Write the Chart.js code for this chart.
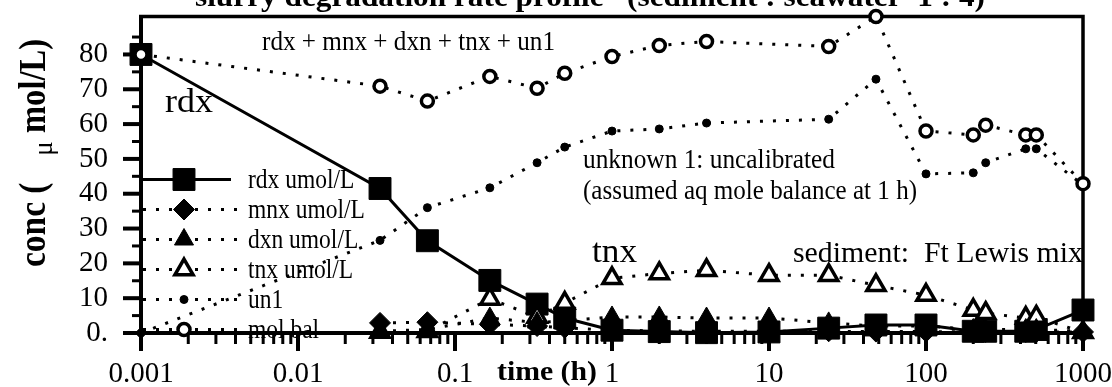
<!DOCTYPE html>
<html>
<head>
<meta charset="utf-8">
<title>RDX slurry degradation</title>
<script src="https://cdn.jsdelivr.net/npm/chart.js@4.4.1/dist/chart.umd.min.js"></script>
<style>
  html, body { margin: 0; padding: 0; background: #fff; }
  #wrap { width: 1112px; height: 387px; position: relative; }
</style>
</head>
<body>
<div id="wrap"><canvas id="c"></canvas></div>
<script>
// sampling times (h)
const timeH = [0.001, 0.0333, 0.0667, 0.1667, 0.3333, 0.5, 1, 2, 4, 10, 24, 48, 100, 200, 240, 432, 504, 1000];

// concentrations (umol/L); null = not measured at that time
const rdxConc = [80.0, 41.5, 26.5, 15.1, 8.3, 4.3, 0.8, 0.4, 0.1, 0.3, 1.4, 2.3, 2.3, 0.5, 0.5, 0.5, 1.0, 6.6];
const mnxConc = [null, 2.9, 3.1, 2.5, 2.0, 1.5, 0.8, 0.6, 0.5, 0.5, 0.5, 0.4, 0.4, 0.3, 0.3, 0.3, 0.3, 0.3];
const dxnConc = [null, 0.5, 1.0, 4.3, 3.0, 3.5, 4.6, 4.6, 4.3, 4.3, 2.9, 2.0, 2.0, 1.0, 1.0, 1.0, 1.0, 0.5];
const tnxConc = [null, 0.3, 0.5, 9.8, 4.6, 8.6, 15.7, 17.1, 18.0, 16.6, 16.6, 13.7, 10.9, 6.6, 5.7, 4.3, 4.6, 0.2];
const un1Conc = [0, 26.6, 36.0, 41.7, 48.9, 53.4, 58.0, 58.6, 60.3, null, 61.4, 72.9, 45.7, 46.0, 48.9, 52.9, 52.9, 42.5];
const molBal  = [80.0, 70.9, 66.6, 73.7, 70.3, 74.6, 79.4, 82.6, 83.7, null, 82.3, 90.9, 58.0, 56.9, 59.7, 56.9, 56.9, 42.9];

const seriesNames = ['rdx umol/L', 'mnx umol/L', 'dxn umol/L', 'tnx umol/L', 'un1', 'mol bal'];

// axis labels
const xTickLabels = ['0.001', '0.01', '0.1', '1', '10', '100', '1000'];
const yTickLabels = ['0.', '10', '20', '30', '40', '50', '60', '70', '80'];

const SERIF = "'Liberation Serif', 'Times New Roman', serif";
const INK = '#000';

function points(values) {
  return timeH.map((t, i) => ({ x: t, y: values[i] }));
}

function series(label, values, style) {
  return Object.assign({
    label,
    data: points(values),
    borderColor: INK,
    pointBorderColor: INK,
    borderWidth: 3,
    borderDash: [3, 10],
    borderCapStyle: 'butt',
    spanGaps: true,
    clip: false,
    tension: 0
  }, style);
}

// "order": lower values are painted on top (mole balance circles sit over everything)
const datasets = [
  series(seriesNames[0], rdxConc, { order: 4, borderDash: [], pointStyle: 'rect', pointRadius: 15.5, pointBorderWidth: 1, pointBackgroundColor: INK }),
  series(seriesNames[1], mnxConc, { order: 1, pointStyle: 'rectRot', pointRadius: 10.5, pointBorderWidth: 1, pointBackgroundColor: INK }),
  series(seriesNames[2], dxnConc, { order: 2, pointStyle: 'triangle', pointRadius: 11, pointBorderWidth: 1, pointBackgroundColor: INK }),
  series(seriesNames[3], tnxConc, { order: 3, pointStyle: 'triangle', pointRadius: 10.5, pointBorderWidth: 3.5, pointBackgroundColor: '#fff' }),
  series(seriesNames[4], un1Conc, { order: 5, pointStyle: 'circle', pointRadius: 4, pointBorderWidth: 1, pointBackgroundColor: INK }),
  series(seriesNames[5], molBal,  { order: 0, pointStyle: 'circle', pointRadius: 6, pointBorderWidth: 3.5, pointBackgroundColor: '#fff' })
];

// plain text helper: optional horizontal squeeze / fit to a width, optional rotation
function drawText(ctx, str, x, y, opt) {
  ctx.save();
  ctx.font = (opt.bold ? 'bold ' : '') + opt.size + 'px ' + SERIF;
  ctx.fillStyle = INK;
  ctx.textAlign = 'left';
  ctx.textBaseline = 'alphabetic';
  let sx = opt.sx || 1;
  if (opt.width) sx = opt.width / ctx.measureText(str).width;
  ctx.translate(x, y);
  if (opt.rot) ctx.rotate(opt.rot);
  ctx.scale(sx, 1);
  ctx.fillText(str, opt.dx || 0, opt.dy || 0);
  ctx.restore();
}

// tick marks on the two axes, plus the closing frame on top and right
const axisMarks = {
  id: 'axisMarks',
  beforeDatasetsDraw(chart) {
    const { ctx, chartArea, scales } = chart;
    const xs = scales.x, ys = scales.y;
    ctx.save();
    ctx.strokeStyle = INK;
    ctx.lineCap = 'butt';
    // x: decades long, 2..9 short
    for (let e = -3; e <= 3; e++) {
      for (let k = 1; k <= 9; k++) {
        const v = k * Math.pow(10, e);
        if (v > 1000 * 1.0001) continue;
        const px = xs.getPixelForValue(v);
        const major = k === 1;
        ctx.lineWidth = major ? 4 : 3;
        ctx.beginPath();
        ctx.moveTo(px, chartArea.bottom);
        ctx.lineTo(px, chartArea.bottom + (major ? 18 : 11));
        ctx.stroke();
      }
    }
    // y: every 10 long, every 5 short
    for (let v = 0; v <= 85; v += 5) {
      const py = ys.getPixelForValue(v);
      const major = v % 10 === 0;
      ctx.lineWidth = major ? 4 : 3;
      ctx.beginPath();
      ctx.moveTo(chartArea.left - (major ? 18 : 9), py);
      ctx.lineTo(chartArea.left, py);
      ctx.stroke();
    }
    // frame
    ctx.lineWidth = 3.5;
    ctx.beginPath();
    ctx.moveTo(chartArea.left - 2, chartArea.top);
    ctx.lineTo(chartArea.right, chartArea.top);
    ctx.lineTo(chartArea.right, chartArea.bottom + 2);
    ctx.stroke();
    ctx.restore();
  }
};

// in-plot legend: line sample + marker + name, one row per series
const inPlotLegend = {
  id: 'inPlotLegend',
  beforeDatasetsDraw(chart) {
    const { ctx, chartArea } = chart;
    chart.data.datasets.forEach((ds, i) => {
      const y = chartArea.top + 163 + i * 30;
      const x0 = chartArea.left + 2;
      const x1 = chartArea.left + (ds.borderDash.length ? 100 : 90);
      const xm = chartArea.left + 43;
      ctx.save();
      ctx.strokeStyle = INK;
      ctx.lineWidth = ds.borderWidth;
      ctx.setLineDash(ds.borderDash);
      ctx.beginPath();
      ctx.moveTo(x0, y);
      ctx.lineTo(x1, y);
      ctx.stroke();
      ctx.setLineDash([]);
      ctx.fillStyle = ds.pointBackgroundColor;
      ctx.strokeStyle = INK;
      ctx.lineWidth = ds.pointBorderWidth;
      Chart.helpers.drawPoint(ctx, {
        pointStyle: ds.pointStyle,
        radius: ds.pointRadius,
        borderWidth: ds.pointBorderWidth,
        rotation: 0
      }, xm, y);
      ctx.restore();
      drawText(ctx, ds.label, chartArea.left + 107, y + 8, { size: 27, sx: 0.87 });
    });
  }
};

// notes written inside the plot, plus title and axis titles
const notes = {
  id: 'notes',
  beforeDatasetsDraw(chart) {
    const ctx = chart.ctx;
    drawText(ctx, 'rdx + mnx + dxn + tnx + un1', 262, 50, { size: 28, width: 293 });
    drawText(ctx, 'rdx', 165, 112, { size: 33, width: 48 });
    drawText(ctx, 'unknown 1: uncalibrated', 583, 168, { size: 28, width: 252 });
    drawText(ctx, '(assumed aq mole balance at 1 h)', 583, 199, { size: 28, width: 334 });
    drawText(ctx, 'tnx', 592, 262, { size: 34, width: 45 });
    drawText(ctx, 'sediment:  Ft Lewis mix', 793, 262, { size: 30, width: 290 });
  },
  afterDraw(chart) {
    const ctx = chart.ctx;
    // chart title (runs off the top edge)
    drawText(ctx, 'slurry degradation rate profile   (sediment : seawater  1 : 4)', 195, 6, { size: 30, bold: true, width: 790 });
    // x axis title
    drawText(ctx, 'time (h)', 497, 380, { size: 27, bold: true, width: 100 });
    // y axis title, rotated
    const rot = -Math.PI / 2;
    drawText(ctx, 'conc (', 45, 267, { size: 38, bold: true, sx: 0.88, rot });
    drawText(ctx, '\u03bc', 45, 267, { size: 28, sx: 0.95, rot, dx: 117, dy: 7 });
    ctx.save();
    ctx.font = 'bold 38px ' + SERIF;
    const w = ctx.measureText('mol/L)').width;
    ctx.restore();
    drawText(ctx, 'mol/L)', 45, 133, { size: 38, bold: true, sx: 94 / w, rot });
  }
};

function isDecade(v) {
  const l = Math.log10(v);
  return Math.abs(l - Math.round(l)) < 1e-6;
}

new Chart(document.getElementById('c'), {
  type: 'line',
  data: { datasets },
  options: {
    responsive: true,
    maintainAspectRatio: false,
    devicePixelRatio: 1,
    animation: false,
    events: [],
    layout: { padding: { left: 0, right: 29, top: 15, bottom: 0 } },
    plugins: {
      legend: { display: false },
      tooltip: { enabled: false },
      title: { display: false }
    },
    scales: {
      x: {
        type: 'logarithmic',
        min: 0.001,
        max: 1000,
        grid: { display: false },
        border: { display: true, color: INK, width: 4 },
        ticks: {
          autoSkip: false,
          maxRotation: 0,
          padding: 16,
          color: INK,
          font: { family: SERIF, size: 29 },
          callback: (v) => isDecade(v) ? xTickLabels[Math.round(Math.log10(v)) + 3] : ''
        },
        afterFit: (s) => { s.height = 54; s.paddingLeft = 0; s.paddingRight = 0; }
      },
      y: {
        type: 'linear',
        min: 0,
        max: 90.9,
        grid: { display: false },
        border: { display: true, color: INK, width: 4 },
        ticks: {
          stepSize: 5,
          includeBounds: false,
          autoSkip: false,
          padding: 25,
          color: INK,
          font: { family: SERIF, size: 29 },
          callback: (v) => (v % 10 === 0 && v <= 80) ? yTickLabels[v / 10] : ''
        },
        afterFit: (s) => { s.width = 141; s.paddingTop = 0; s.paddingBottom = 0; }
      }
    }
  },
  plugins: [axisMarks, inPlotLegend, notes]
});
</script>
</body>
</html>
